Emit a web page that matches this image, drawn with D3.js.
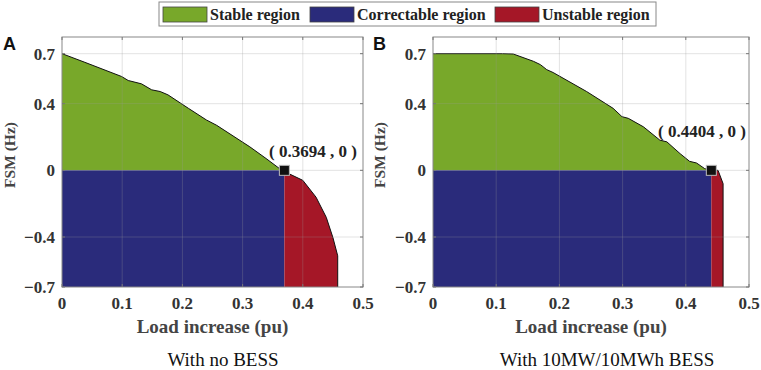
<!DOCTYPE html>
<html>
<head>
<meta charset="utf-8">
<script src="https://cdn.jsdelivr.net/npm/d3@7"></script>
<style>
  body { margin: 0; background: #fff; }
  text { font-family: "Liberation Serif", "Times New Roman", serif; }
</style>
</head>
<body>
<div id="chart"></div>
<script>
// tick values
const xTicks = [0, 0.1, 0.2, 0.3, 0.4, 0.5];
const yTicks = [0.7, 0.4, 0, -0.4, -0.7];

// panel A: no BESS
const criticalA = 0.3694;
const stableA = [[0, 0.7], [0.038, 0.648], [0.099, 0.563], [0.11, 0.539], [0.132, 0.519],
    [0.149, 0.483], [0.163, 0.473], [0.176, 0.453], [0.21, 0.372], [0.24, 0.302],
    [0.257, 0.27], [0.312, 0.141], [0.339, 0.071], [0.3615, 0.01], [0.3694, 0]];
const unstableA = [[0.3694, 0], [0.378, -0.022], [0.4, -0.06], [0.422, -0.161], [0.439, -0.282],
    [0.45, -0.403], [0.458, -0.513], [0.458, -0.7]];

// panel B: with 10MW/10MWh BESS
const criticalB = 0.4404;
const stableB = [[0, 0.7], [0.11, 0.7], [0.127, 0.698], [0.159, 0.654], [0.17, 0.634],
    [0.18, 0.604], [0.19, 0.587], [0.243, 0.473], [0.285, 0.372], [0.299, 0.322],
    [0.309, 0.312], [0.333, 0.261], [0.359, 0.181], [0.37, 0.171], [0.391, 0.1],
    [0.406, 0.054], [0.417, 0.044], [0.43, 0.01], [0.4404, 0]];
const unstableB = [[0.4404, 0], [0.451, 0], [0.459, -0.08], [0.459, -0.7]];

const legendItems = ["Stable region", "Correctable region", "Unstable region"];
const colors = { stable: "#78a82a", correct: "#2a2b7b", unstable: "#a51727" };

const svg = d3.select("#chart").append("svg")
    .attr("width", 761)
    .attr("height", 370);

const panels = [
    { letter: "A", left: 62, right: 363, stable: stableA, unstable: unstableA, crit: criticalA,
      note: "( 0.3694 , 0 )", noteX: 313, noteY: 157, title: "With no BESS", titleX: 223, letterX: 3, ylabX: 15 },
    { letter: "B", left: 433, right: 749, stable: stableB, unstable: unstableB, crit: criticalB,
      note: "( 0.4404 , 0 )", noteX: 702, noteY: 137, title: "With 10MW/10MWh BESS", titleX: 607, letterX: 373, ylabX: 385 }
];

const plotTop = 37, plotBottom = 287;

panels.forEach(p => {
    const x = d3.scaleLinear().domain([0, 0.5]).range([p.left, p.right]);
    const y = d3.scaleLinear().domain([-0.7, 0.8]).range([plotBottom, plotTop]);
    const g = svg.append("g");

    // stable (green) area
    g.append("path")
        .datum(p.stable)
        .attr("fill", colors.stable)
        .attr("d", d3.area().x(d => x(d[0])).y0(y(0)).y1(d => y(d[1])));

    // correctable (blue) area
    g.append("path")
        .datum([[0, 0], [p.crit, 0]])
        .attr("fill", colors.correct)
        .attr("d", d3.area().x(d => x(d[0])).y0(y(-0.7)).y1(d => y(d[1])));

    // unstable (red) area
    const line = d3.line().x(d => x(d[0])).y(d => y(d[1]));
    const redPoly = p.unstable.concat([[p.crit, -0.7]]);
    g.append("path")
        .attr("fill", colors.unstable)
        .attr("d", line(redPoly) + "Z");

    // boundaries
    g.append("path").attr("d", line(p.stable))
        .attr("fill", "none").attr("stroke", "#111").attr("stroke-width", 1);
    g.append("path").attr("d", line(p.unstable))
        .attr("fill", "none").attr("stroke", "#111").attr("stroke-width", 1);

    // grid on top
    g.selectAll(".vgrid").data(xTicks.slice(1, -1)).enter().append("line")
        .attr("x1", d => x(d)).attr("x2", d => x(d))
        .attr("y1", plotTop).attr("y2", plotBottom)
        .attr("stroke", "#999").attr("stroke-opacity", 0.28);
    g.selectAll(".hgrid").data(yTicks.slice(0, -1)).enter().append("line")
        .attr("x1", p.left).attr("x2", p.right)
        .attr("y1", d => y(d)).attr("y2", d => y(d))
        .attr("stroke", "#999").attr("stroke-opacity", 0.28);

    // box
    g.append("rect")
        .attr("x", p.left).attr("y", plotTop)
        .attr("width", p.right - p.left).attr("height", plotBottom - plotTop)
        .attr("fill", "none").attr("stroke", "#888").attr("stroke-width", 1);

    // inward ticks on all sides
    const ax = g.append("g");
    xTicks.forEach(t => {
        ax.append("line").attr("x1", x(t)).attr("x2", x(t)).attr("y1", plotTop).attr("y2", plotTop + 3).attr("stroke", "#777");
        ax.append("line").attr("x1", x(t)).attr("x2", x(t)).attr("y1", plotBottom).attr("y2", plotBottom - 3).attr("stroke", "#777");
    });
    yTicks.forEach(t => {
        ax.append("line").attr("x1", p.left).attr("x2", p.left + 3).attr("y1", y(t)).attr("y2", y(t)).attr("stroke", "#777");
        ax.append("line").attr("x1", p.right).attr("x2", p.right - 3).attr("y1", y(t)).attr("y2", y(t)).attr("stroke", "#777");
    });

    // tick labels
    g.selectAll(".xt").data(xTicks).enter().append("text")
        .attr("x", d => x(d)).attr("y", 309)
        .attr("text-anchor", "middle")
        .attr("font-size", 17).attr("font-weight", "bold").attr("fill", "#333")
        .text(d => d3.format("")(d));
    g.selectAll(".yt").data(yTicks).enter().append("text")
        .attr("x", p.left - 7).attr("y", d => y(d) + 6)
        .attr("text-anchor", "end")
        .attr("font-size", 17).attr("font-weight", "bold").attr("fill", "#333")
        .text(d => d3.format("")(d));

    // axis labels
    g.append("text")
        .attr("x", (p.left + p.right) / 2).attr("y", 333)
        .attr("text-anchor", "middle")
        .attr("font-size", 19).attr("font-weight", "bold").attr("fill", "#444")
        .text("Load increase (pu)");
    g.append("text")
        .attr("transform", `translate(${p.ylabX},${155}) rotate(-90)`)
        .attr("text-anchor", "middle")
        .attr("font-size", 15.5).attr("font-weight", "bold").attr("fill", "#444")
        .text("FSM (Hz)");

    // subtitle
    g.append("text")
        .attr("x", p.titleX).attr("y", 366)
        .attr("text-anchor", "middle")
        .attr("font-size", 19).attr("fill", "#111")
        .text(p.title);

    // panel letter
    g.append("text")
        .attr("x", p.letterX).attr("y", 50)
        .style("font-family", "'Liberation Sans', Arial, sans-serif")
        .attr("font-size", 18).attr("font-weight", "bold").attr("fill", "#111")
        .text(p.letter);

    // critical point marker and note
    g.append("rect")
        .attr("x", x(p.crit) - 5).attr("y", y(0) - 5)
        .attr("width", 10).attr("height", 10)
        .attr("fill", "#111").attr("stroke", "#bbb").attr("stroke-width", 1);
    g.append("text")
        .attr("x", p.noteX).attr("y", p.noteY)
        .attr("text-anchor", "middle")
        .attr("font-size", 17).attr("font-weight", "bold").attr("fill", "#222")
        .text(p.note);
});

// legend
const leg = svg.append("g");
leg.append("rect")
    .attr("x", 159).attr("y", 2).attr("width", 497).attr("height", 24)
    .attr("fill", "#fff").attr("stroke", "#888");
const swatchX = [163, 310, 495];
const swatchColors = [colors.stable, colors.correct, colors.unstable];
legendItems.forEach((name, i) => {
    leg.append("rect")
        .attr("x", swatchX[i]).attr("y", 7).attr("width", 44).attr("height", 15)
        .attr("fill", swatchColors[i]).attr("stroke", "#444").attr("stroke-width", 0.8);
    leg.append("text")
        .attr("x", swatchX[i] + 47).attr("y", 20)
        .attr("font-size", 16).attr("font-weight", "bold").attr("fill", "#222")
        .text(name);
});
</script>
</body>
</html>
